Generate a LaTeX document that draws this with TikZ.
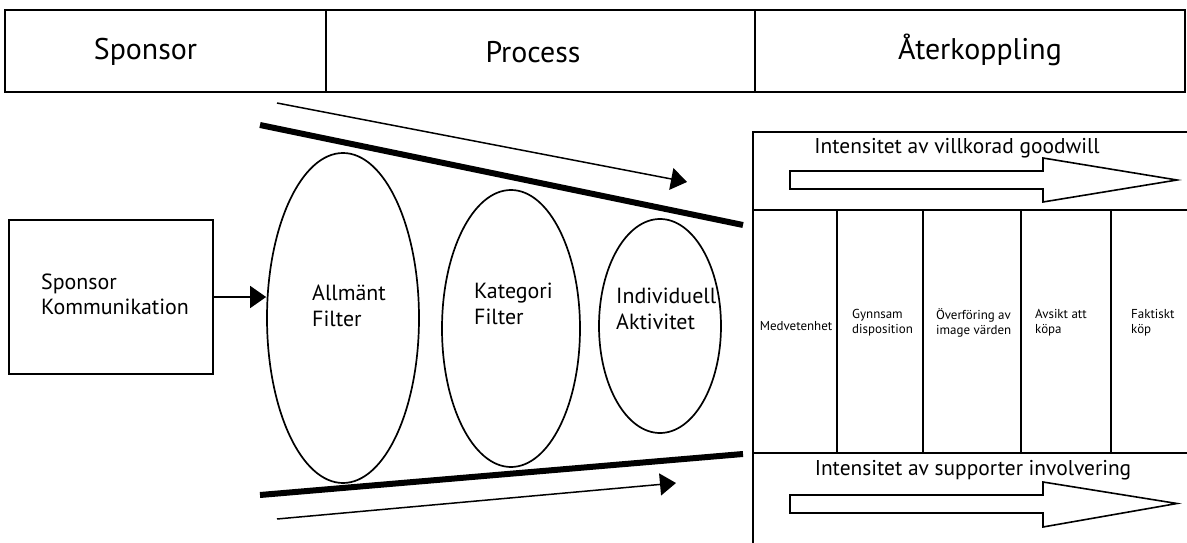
\documentclass[tikz,border=0pt]{standalone}
\usepackage{fontspec}
\setmainfont{PT Sans}
\usetikzlibrary{arrows.meta,shapes.geometric}
\tikzset{
  cell/.style={draw, line width=1.6bp, inner sep=0pt, rectangle},
  ell/.style={draw, line width=1.7bp, ellipse, inner sep=0pt},
  hdtext/.style={inner sep=0pt, font=\fontsize{30}{36}\selectfont},
  lbl/.style={inner sep=0pt, align=left, font=\fontsize{22}{26}\selectfont},
  boxlbl/.style={inner sep=0pt, align=left, font=\fontsize{22}{25}\selectfont},
  intlbl/.style={inner sep=0pt, font=\fontsize{21.5}{25}\selectfont},
  collbl/.style={inner sep=0pt, align=left, font=\fontsize{13}{15}\selectfont},
  heavy/.style={line width=6bp},
  thinarr/.style={line width=1.5bp, -{Triangle[length=16bp,width=22bp]}},
  panel/.style={line width=1.7bp},
  blockarrow/.style={draw, line width=1.6bp, fill=white, line join=miter}
}
\begin{document}
\begin{tikzpicture}[x=1bp,y=-1bp]
\useasboundingbox (0,0) rectangle (1187,543);
\fill[white] (0,0) rectangle (1187,543);
% header
\node[cell, minimum width=321bp, minimum height=82bp] (h1) at (165.5,51) {};
\node[cell, minimum width=429bp, minimum height=82bp] (h2) at (540.5,51) {};
\node[cell, minimum width=430bp, minimum height=82bp] (h3) at (970,51) {};
\node[hdtext] (t1) at (145.5,52) {Sponsor};
\node[hdtext] (t2) at (533,52) {Process};
\node[hdtext] (t3) at (980,50) {Återkoppling};
% sponsor box
\node[cell, minimum width=204bp, minimum height=154bp] (sk) at (111,297) {};
\node[boxlbl, anchor=west] (skt) at (41,294) {Sponsor\\Kommunikation};
% ellipses
\node[ell, minimum width=152bp, minimum height=330bp] (e1) at (343,318) {};
\node[ell, minimum width=138bp, minimum height=277bp] (e2) at (511,328.5) {};
\node[ell, minimum width=122bp, minimum height=214bp] (e3) at (660,326) {};
\node[lbl, anchor=west] (e1t) at (312,306) {Allmänt\\Filter};
\node[lbl, anchor=west] (e2t) at (474,303.5) {Kategori\\Filter};
\node[lbl, anchor=west] (e3t) at (616,309) {Individuell\\Aktivitet};
\draw[thinarr] (sk.east) -- (sk.east -| e1.west);
% funnel lines
\coordinate (ft1) at (260,125);
\coordinate (ft2) at (743,225);
\coordinate (fb1) at (260,495);
\coordinate (fb2) at (743,454);
\draw[heavy] (ft1) -- (ft2);
\draw[heavy] (fb1) -- (fb2);
\coordinate (at1) at (277,103);
\coordinate (at2) at (687,182);
\coordinate (ab1) at (277,519);
\coordinate (ab2) at (676,483);
\draw[thinarr] (at1) -- (at2);
\draw[thinarr] (ab1) -- (ab2);
% right panel
\coordinate (pTL) at (753,132);
\coordinate (pTR) at (1187,132);
\coordinate (pML) at (753,210);
\coordinate (pMR) at (1187,210);
\coordinate (pBL) at (753,453);
\coordinate (pBR) at (1187,453);
\coordinate (pEnd) at (753,543);
\draw[panel] (pTR) -- (pTL) -- (pEnd);
\draw[panel] (pML) -- (pMR);
\draw[panel] (pBL) -- (pBR);
\foreach \x/\n in {837/c1,923/c2,1021/c3,1111/c4}{
  \coordinate (\n t) at (\x,210);
  \coordinate (\n b) at (\x,453);
  \draw[panel] (\n t) -- (\n b);
}
\node[intlbl] (it1) at (957,148) {Intensitet av villkorad goodwill};
\node[intlbl] (it2) at (973,470) {Intensitet av supporter involvering};
\draw[blockarrow] (790,171) -- (1043,171) -- (1043,158) -- (1177,180) -- (1043,202) -- (1043,189) -- (790,189) -- cycle;
\draw[blockarrow] (790,495) -- (1043,495) -- (1043,482) -- (1177,503.5) -- (1043,527) -- (1043,513) -- (790,513) -- cycle;
% column labels
\node[collbl] (m1) at (796,326) {Medvetenhet};
\node[collbl, anchor=west] (m2) at (852,322.5) {Gynnsam\\disposition};
\node[collbl, anchor=west] (m3) at (936,322.5) {Överföring av\\image värden};
\node[collbl, anchor=west] (m4) at (1035,322.5) {Avsikt att\\köpa};
\node[collbl, anchor=west] (m5) at (1131,322.5) {Faktiskt\\köp};
\end{tikzpicture}
\end{document}
